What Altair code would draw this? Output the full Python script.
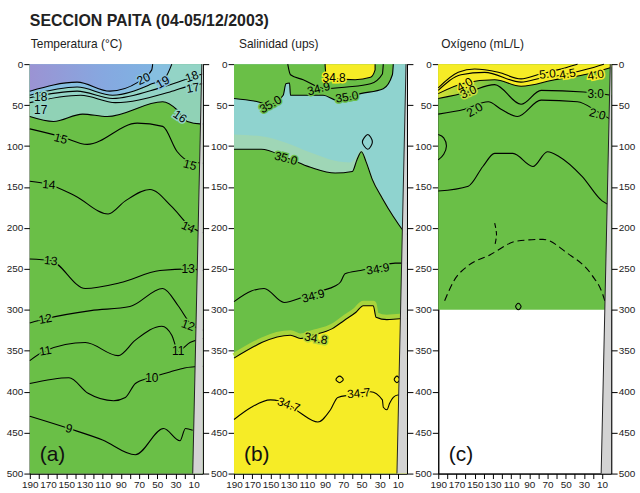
import altair as alt
import pandas as pd

FONT = "Liberation Sans, Arial, sans-serif"
GREEN = "#6abf47"
YELLOW = "#f6ec26"
CYAN = "#8fd3cf"
CYAN2 = "#9fd6b6"
TEAL = "#93d4c6"
TEAL2 = "#90d2b6"
BLUE = "#86bfe0"
GRAY = "#d3d3d3"
GLOW = "#b3d73b"

X_TICKS = list(range(10, 200, 10))
Y_TICKS = list(range(0, 550, 50))

# ---------------- Temperature (distance nm, depth m)
T20_d = [190, 138, 102, 71, 56, 55]
T20_z = [33, 22, 33, 22, 7, 0]
T19_d = [190, 138, 99, 58, 41, 34]
T19_z = [38, 28, 38, 25, 16, 0]
T18_d = [190, 138, 99, 47, 14, 0]
T18_z = [41, 33, 42, 29, 17, 12]
T17_d = [190, 134, 96, 36, 9, 0]
T17_z = [47, 38, 47, 34, 25, 24]
T16_d = [190, 164, 132, 105, 44, 28, 17, 3, 0]
T16_z = [64, 70, 61, 64, 46, 56, 70, 73, 73]
T15_d = [190, 154, 127, 72, 44, 28, 14, 0]
T15_z = [79, 89, 98, 72, 76, 107, 119, 121]
T14_d = [190, 169, 140, 104, 85, 58, 34, 14, 0]
T14_z = [143, 147, 161, 183, 167, 153, 174, 198, 206]
T13_d = [190, 167, 129, 91, 47, 14, 0]
T13_z = [238, 240, 274, 267, 252, 250, 252]
T12_d = [190, 173, 123, 80, 44, 27, 14, 0]
T12_z = [316, 311, 301, 296, 274, 295, 316, 325]
T11_d = [190, 173, 129, 93, 74, 45, 34, 27, 14, 0]
T11_z = [362, 350, 340, 356, 337, 320, 331, 350, 340, 335]
T10_d = [190, 147, 126, 98, 85, 74, 58, 36, 20, 0]
T10_z = [390, 383, 402, 411, 407, 390, 383, 376, 371, 369]
T9_d = [190, 147, 110, 74, 43, 25, 19, 11]
T9_z = [430, 445, 459, 477, 445, 460, 445, 447]

TL_t = ["20", "19", "18", "17", "18", "17", "16", "15", "15", "14", "14",
        "13", "13", "12", "12", "11", "11", "10", "9"]
TL_d = [65, 44, 12, 11, 178, 178, 25, 156, 14, 169, 16, 167, 16, 173, 16, 173, 27, 56, 147]
TL_z = [18, 22, 15, 29, 40, 56, 64, 91, 123, 147, 199, 240, 250, 311, 319, 350, 350, 383, 445]
TL_a = [335, 330, 340, 350, 0, 0, 35, 15, 15, 5, 25, 5, 0, 350, 20, 350, 0, 0, 15]

# ---------------- Salinity
S35u_d = [190, 168, 150, 136, 133, 129, 128, 92, 77, 51, 26, 16, 15]
S35u_z = [42, 45, 49, 38, 24, 23, 38, 38, 44, 36, 30, 13, 0]
S349u_d = [131, 128, 114, 90, 66, 40, 27, 26]
S349u_z = [0, 13, 19, 30, 28, 24, 12, 0]
S348u_d = [90, 89, 79, 57, 40, 35, 35]
S348u_z = [0, 12, 18, 19, 16, 7, 0]
S35l_d = [190, 160, 133, 106, 79, 60, 55, 50, 45, 38, 27, 15, 2, 0]
S35l_z = [104, 104, 114, 126, 133, 131, 117, 107, 119, 141, 164, 186, 206, 208]
# inner (purer) high-salinity core
S35c_d = [190, 160, 133, 106, 79, 62, 55, 50, 45, 38, 27, 15, 2, 0]
S35c_z = [86, 88, 96, 108, 118, 120, 112, 104, 114, 137, 161, 184, 204, 206]
S35b_d = [49, 43, 38, 43]
S35b_z = [95, 86, 95, 104]
S349l_d = [190, 171, 157, 135, 113, 95, 79, 73, 68, 51, 32, 13, 0]
S349l_z = [290, 277, 274, 291, 284, 277, 271, 266, 256, 252, 248, 243, 243]
S348l_d = [190, 128, 117, 104, 82, 69, 56, 48, 37, 34, 22, 8, 0]
S348l_z = [359, 331, 335, 331, 323, 313, 303, 295, 295, 309, 312, 311, 311]
S347_d = [190, 171, 150, 130, 117, 98, 84, 76, 62, 53, 40, 27, 26, 22, 19, 15, 10, 7, 0]
S347_z = [434, 419, 410, 416, 426, 437, 422, 407, 404, 402, 400, 410, 419, 422, 414, 407, 404, 404, 404]
S347a_d = [78, 74, 70, 74]
S347a_z = [385, 381, 385, 389]
S347b_d = [14, 11, 8, 11]
S347b_z = [385, 381, 385, 389]

SL_t = ["35.0", "34.9", "34.8", "35.0", "35.0", "34.9", "34.9", "34.8", "34.7", "34.7"]
SL_d = [150, 97, 80, 66, 133, 103, 32, 100, 130, 53]
SL_z = [49, 30, 17, 40, 115, 283, 250, 335, 416, 402]
SL_a = [330, 345, 0, 350, 15, 345, 350, 10, 20, 355]
SL_bg = [GREEN, GREEN, YELLOW, GREEN, GREEN, GREEN, GREEN, GLOW, YELLOW, YELLOW]

# ---------------- Oxygen
O50_d = [190, 168, 150, 124, 99, 81, 59, 37]
O50_z = [29, 10, 6, 10, 18, 13, 7, 0]
O45_d = [190, 165, 139, 99, 77, 48, 26, 8]
O45_z = [32, 13, 10, 22, 17, 12, 6, 0]
O40_d = [190, 161, 128, 99, 62, 30, 0]
O40_z = [36, 23, 19, 27, 19, 13, 4]
O30_d = [190, 157, 128, 99, 77, 30, 0]
O30_z = [42, 34, 25, 49, 32, 34, 38]
O20_d = [190, 161, 135, 121, 103, 77, 37, 15, 0]
O20_z = [61, 55, 46, 55, 64, 44, 46, 58, 68]
OL_d = [190, 184, 181, 184, 190]
OL_z = [86, 90, 100, 110, 117]
OA_d = [190, 157, 141, 128, 108, 86, 70, 57, 32, 10, 0]
OA_z = [155, 149, 125, 109, 109, 125, 107, 113, 137, 167, 173]
OB_d = [183, 173, 157, 135, 103, 75, 48, 21, 10, 7]
OB_z = [289, 265, 246, 234, 216, 214, 231, 258, 279, 289]
OC_d = [128, 126, 128]
OC_z = [194, 208, 222]
OD_d = [105, 102, 99, 102]
OD_z = [296, 292, 296, 300]

OL_t = ["5.0", "4.5", "4.0", "4.0", "3.0", "3.0", "2.0", "2.0"]
OLd = [70, 48, 17, 161, 157, 17, 150, 15]
OLz = [12, 12, 13, 25, 34, 36, 56, 61]
OLa = [355, 350, 350, 330, 335, 0, 330, 15]
OLbg = [YELLOW, YELLOW, YELLOW, YELLOW, "#c5de3a", GREEN, GREEN, GREEN]

# shelf (grey) boundary
G_d = [1, 11]
G_z = [0, 500]

XS = alt.Scale(domain=[0, 190], reverse=True, nice=False, zero=False)
YS = alt.Scale(domain=[0, 500], reverse=True, nice=False, zero=False)

XAX = alt.Axis(values=X_TICKS, labelExpr="datum.value % 20 == 10 ? datum.label : ''",
               tickSize=5, labelFont=FONT, labelFontSize=10, labelColor="#222",
               domainColor="black", tickColor="black", grid=False, title=None,
               labelPadding=1, labelOverlap=False, labelFlush=False)


def yaxis(orient, labels):
    return alt.Axis(orient=orient, values=Y_TICKS, tickSize=6, labels=labels,
                    labelFont=FONT, labelFontSize=10, labelColor="#222",
                    domainColor="black", tickColor="black", grid=False,
                    title=None, labelPadding=1, labelFlush=False, labelOverlap=False)


def frame(ds, zs):
    return pd.DataFrame({"d": ds, "z": zs, "i": list(range(len(ds))),
                         "top": [0] * len(ds), "bot": [500] * len(ds)})


def X():
    return alt.X("d:Q", scale=XS, axis=XAX)


def Y():
    return alt.Y("z:Q", scale=YS, axis=None)


def fill_up(ds, zs, color, interp="monotone"):
    return alt.Chart(frame(ds, zs)).mark_area(color=color, interpolate=interp, orient="vertical").encode(
        x=X(), y=Y(), y2=alt.Y2("top"))


def fill_down(ds, zs, color, interp="monotone"):
    return alt.Chart(frame(ds, zs)).mark_area(color=color, interpolate=interp, orient="vertical").encode(
        x=X(), y=Y(), y2=alt.Y2("bot"))


def line(ds, zs, interp="monotone", dash=None, closed=False, width=1.1, color="black",
         yoff=0, opacity=1.0):
    kw = dict(color=color, strokeWidth=width, opacity=opacity,
              interpolate=("cardinal-closed" if closed else interp))
    if dash:
        kw["strokeDash"] = dash
    if yoff:
        kw["yOffset"] = yoff
    return alt.Chart(frame(ds, zs)).mark_line(**kw).encode(x=X(), y=Y(), order="i:Q")


def background(depth):
    df = pd.DataFrame({"x0": [190], "x1": [0], "y0": [0], "y1": [depth]})
    return alt.Chart(df).mark_rect(color=GREEN).encode(
        x=alt.X("x0:Q", scale=XS, axis=XAX), x2="x1:Q",
        y=alt.Y("y0:Q", scale=YS, axis=yaxis("left", True)), y2="y1:Q")


def shelf(labels):
    df = pd.DataFrame({"d": G_d, "z": G_z, "zero": [0, 0]})
    area = alt.Chart(df).mark_area(orient="horizontal", color=GRAY).encode(
        y=alt.Y("z:Q", scale=YS, axis=yaxis("right", labels)),
        x=alt.X("d:Q", scale=XS, axis=XAX), x2="zero:Q")
    edge = alt.Chart(df).mark_line(color="#222", strokeWidth=1).encode(
        y=Y(), x=alt.X("d:Q", scale=XS, axis=XAX), order="z:Q")
    return [area, edge]


def labels(ds, zs, ts, angs, bgs):
    df = pd.DataFrame({"d": ds, "z": zs, "t": ts, "a": angs, "bg": bgs})
    base = alt.Chart(df).encode(x=X(), y=Y(), text="t:N", angle=alt.Angle("a:Q", scale=None))
    halo = base.mark_text(font=FONT, fontSize=12, strokeWidth=3).encode(
        fill=alt.Fill("bg:N", scale=None), stroke=alt.Stroke("bg:N", scale=None))
    txt = base.mark_text(font=FONT, fontSize=12, color="black")
    return [halo, txt]


def letter(s):
    df = pd.DataFrame({"d": [165], "z": [477], "t": [s]})
    return alt.Chart(df).mark_text(font=FONT, fontSize=21, color="#111").encode(
        x=X(), y=Y(), text="t:N")


def titled(layers, title, dx):
    return alt.layer(*layers).resolve_axis(y="independent").properties(
        width=174, height=412,
        title=alt.TitleParams(title, anchor="start", frame="group", font=FONT, fontSize=12,
                              fontWeight="normal", color="#222", offset=-1,
                              baseline="alphabetic", dx=dx))


# ---------- panel a
TLbg = [BLUE, BLUE, TEAL, TEAL, TEAL, TEAL, TEAL, GREEN, GREEN, GREEN, GREEN, GREEN,
        GREEN, GREEN, GREEN, GREEN, GREEN, GREEN, GREEN]
grad20 = alt.Gradient(gradient="linear", x1=0, x2=1, y1=0, y2=0,
                      stops=[alt.GradientStop(color="#9b93d3", offset=0),
                             alt.GradientStop(color="#86a8e0", offset=0.6),
                             alt.GradientStop(color="#7fb3e2", offset=1)])
pa = [background(500),
      fill_up(T16_d, T16_z, TEAL2),
      fill_up(T17_d, T17_z, TEAL),
      fill_up(T19_d, T19_z, BLUE),
      alt.Chart(frame(T20_d, T20_z)).mark_area(color=grad20, interpolate="monotone",
                                               orient="vertical").encode(
          x=X(), y=Y(), y2=alt.Y2("top"))]
for ds, zs in [(T20_d, T20_z), (T19_d, T19_z), (T18_d, T18_z), (T17_d, T17_z),
               (T16_d, T16_z), (T15_d, T15_z), (T14_d, T14_z), (T13_d, T13_z),
               (T12_d, T12_z), (T11_d, T11_z), (T10_d, T10_z), (T9_d, T9_z)]:
    pa.append(line(ds, zs))
pa += labels(TL_d, TL_z, TL_t, TL_a, TLbg)
pa += shelf(False)
pa.append(letter("(a)"))
chart_a = titled(pa, "Temperatura (°C)", 1)

# ---------- panel b
pb = [background(500),
      fill_up(S35l_d, S35l_z, CYAN2),
      fill_up(S35c_d, S35c_z, CYAN),
      fill_up(S35u_d, S35u_z, GREEN),
      fill_up(S348u_d, S348u_z, YELLOW),
      line(S348l_d, S348l_z, width=6, color=GLOW, yoff=-2, opacity=0.85),
      fill_down(S348l_d, S348l_z, YELLOW)]
for ds, zs in [(S35u_d, S35u_z), (S349u_d, S349u_z), (S348u_d, S348u_z),
               (S35l_d, S35l_z), (S349l_d, S349l_z), (S348l_d, S348l_z), (S347_d, S347_z)]:
    pb.append(line(ds, zs))
for ds, zs in [(S35b_d, S35b_z), (S347a_d, S347a_z), (S347b_d, S347b_z)]:
    pb.append(line(ds, zs, closed=True))
pb += labels(SL_d, SL_z, SL_t, SL_a, SL_bg)
pb += shelf(False)
pb.append(letter("(b)"))
chart_b = titled(pb, "Salinidad (ups)", 5)

# ---------- panel c
grad30 = alt.Gradient(gradient="linear", x1=0, x2=1, y1=0, y2=0,
                      stops=[alt.GradientStop(color="#d2e236", offset=0),
                             alt.GradientStop(color=GREEN, offset=0.35),
                             alt.GradientStop(color=GREEN, offset=1)])
pc = [background(300),
      alt.Chart(frame(O30_d, O30_z)).mark_area(color=grad30, interpolate="monotone",
                                               orient="vertical").encode(
          x=X(), y=Y(), y2=alt.Y2("top")),
      fill_up(O40_d, O40_z, YELLOW)]
for ds, zs in [(O50_d, O50_z), (O45_d, O45_z), (O40_d, O40_z), (O30_d, O30_z),
               (O20_d, O20_z), (OA_d, OA_z)]:
    pc.append(line(ds, zs))
pc.append(line(OL_d, OL_z, interp="cardinal"))
pc.append(line(OB_d, OB_z, dash=[7, 4]))
pc.append(line(OC_d, OC_z, interp="cardinal", dash=[5, 3]))
pc.append(line(OD_d, OD_z, closed=True))
pc += labels(OLd, OLz, OL_t, OLa, OLbg)
pc += shelf(True)
pc.append(letter("(c)"))
chart_c = titled(pc, "Oxígeno (mL/L)", 3)

chart = alt.hconcat(chart_a, chart_b, chart_c, spacing=31.5, bounds="flush").properties(
    title=alt.TitleParams("SECCION PAITA (04-05/12/2003)", anchor="start", frame="group",
                          font=FONT, fontSize=16, fontWeight="bold", color="#222", offset=9),
    padding={"left": 5, "top": 11, "right": 4, "bottom": 1},
).configure_view(stroke="black", strokeWidth=1).configure_axis(domainWidth=1, tickWidth=1)

chart.save("out.html", embed_options={"renderer": "svg", "actions": False})
